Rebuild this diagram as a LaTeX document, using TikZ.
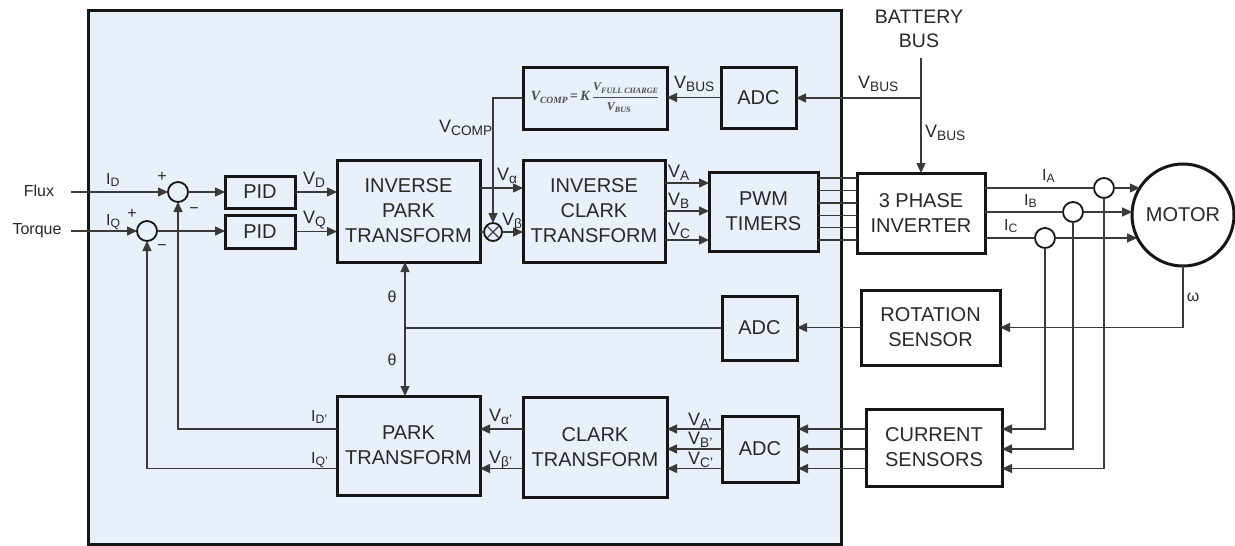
\documentclass[tikz,border=0pt]{standalone}
\usepackage{fontspec}
\setmainfont{Liberation Sans}
\newfontfamily\fmfont{Liberation Serif}
\usepackage{graphicx}
\usetikzlibrary{arrows.meta,calc}
\definecolor{panel}{RGB}{233,240,250}
\definecolor{lncol}{RGB}{58,58,58}
\definecolor{bxcol}{RGB}{22,22,22}
\definecolor{txcol}{RGB}{40,40,40}
\definecolor{fmcol}{RGB}{75,75,75}
\newcommand\Sb[1]{\raisebox{-0.17em}{\scalebox{0.76}{#1}}}
\newcommand\Fs[1]{\raisebox{-0.18em}{\scalebox{0.68}{#1}}}
\newcommand\Ft[1]{\mbox{\fmfont\bfseries\itshape #1}}
\newcommand\formula{$\displaystyle \Ft{V\Fs{COMP}\,=\,K}\,\frac{\scalebox{0.85}{\Ft{V\Fs{FULL CHARGE}}}}{\scalebox{0.85}{\Ft{V\Fs{BUS}}}}$}
\tikzset{
  blk/.style={draw=bxcol, line width=3pt, inner sep=0pt, outer sep=0pt, align=center, text=txcol, font=\fontsize{20}{25}\selectfont},
  wire/.style={draw=lncol, line width=1.4pt},
  awire/.style={wire, -{Triangle[length=10pt,width=9pt]}},
  lbl/.style={text=txcol, font=\fontsize{18}{18}\selectfont, inner sep=0pt},
  slbl/.style={text=txcol, font=\fontsize{16}{16}\selectfont, inner sep=0pt},
  sumc/.style={circle, draw=bxcol, line width=1.8pt, minimum size=20pt, inner sep=0pt, outer sep=0pt},
}
\begin{document}
\begin{tikzpicture}[x=1pt,y=-1pt]
\useasboundingbox (0,0) rectangle (1235,546);
\fill[white] (0,0) rectangle (1235,546);
\draw[line width=3pt, draw=bxcol, fill=panel] (88,10) rectangle (841,544);

% blocks
\node[blk, minimum width=70pt, minimum height=32pt] (pid1) at (260,192) {PID};
\node[blk, minimum width=70pt, minimum height=33pt] (pid2) at (260,231.5) {PID};
\node[blk, minimum width=143pt, minimum height=102pt] (ipark) at (408.5,211) {INVERSE\\PARK\\TRANSFORM};
\node[blk, minimum width=142pt, minimum height=102pt] (iclark) at (594,211) {INVERSE\\CLARK\\TRANSFORM};
\node[blk, minimum width=144pt, minimum height=62pt, text=fmcol, font=\fontsize{14}{16}\selectfont] (form) at (595,98) {\formula};
\node[blk, minimum width=75pt, minimum height=61pt] (adc1) at (758.5,97.5) {ADC};
\node[blk, minimum width=109pt, minimum height=79pt] (pwm) at (763.5,211.5) {PWM\\TIMERS};
\node[blk, fill=white, minimum width=128pt, minimum height=80pt] (inv) at (921,213) {3 PHASE\\INVERTER};
\node[blk, fill=white, circle, minimum size=102pt] (motor) at (1183,215) {MOTOR};
\node[blk, fill=white, minimum width=139pt, minimum height=75pt] (rot) at (930.5,327.5) {ROTATION\\SENSOR};
\node[blk, minimum width=75pt, minimum height=64pt] (adc2) at (759.5,328) {ADC};
\node[blk, minimum width=143pt, minimum height=99pt] (park) at (408.5,445.5) {PARK\\TRANSFORM};
\node[blk, minimum width=144pt, minimum height=100pt] (clark) at (595,447) {CLARK\\TRANSFORM};
\node[blk, minimum width=76pt, minimum height=66pt] (adc3) at (760,449) {ADC};
\node[blk, fill=white, minimum width=136pt, minimum height=77pt] (cur) at (934,447.5) {CURRENT\\SENSORS};

% circles
\node[sumc] (s1) at (178,192) {};
\node[sumc] (s2) at (147,231) {};
\node[sumc, minimum size=18pt] (mul) at (493,232) {};
\draw[wire] (mul.45) -- (mul.225) (mul.135) -- (mul.315);
\node[sumc] (cA) at (1104,188) {};
\node[sumc] (cB) at (1073,212) {};
\node[sumc] (cC) at (1045,238) {};

% inputs
\node[slbl] (flux) at (39,191) {Flux};
\node[slbl] (torq) at (37,231) {Torque};
\coordinate (fin) at (71,192);
\coordinate (tin) at (71,231);
\draw[awire] (fin) -- (s1.west);
\draw[awire] (s1.east) -- (s1.east -| pid1.west);
\draw[awire] (pid1.east) -- (pid1.east -| ipark.west);
\draw[awire] (tin) -- (s2.west);
\draw[awire] (s2.east) -- (s2.east -| pid2.west);
\draw[awire] (pid2.east) -- (pid2.east -| ipark.west);

% inverse park -> inverse clark
\coordinate (ya) at (0,188);
\draw[awire] (ipark.east |- ya) -- (iclark.west |- ya);
\draw[wire] (ipark.east |- mul) -- (mul.west);
\draw[awire] (mul.east) -- (mul.east -| iclark.west);
\draw[awire] (form.west) -| (mul.north);

% inverse clark -> pwm
\foreach \y/\n in {183/a,211/b,240/c}{
  \coordinate (v\n) at (0,\y);
  \draw[awire] (iclark.east |- v\n) -- (pwm.west |- v\n);
}
% pwm -> inverter
\foreach \y/\n in {178/1,190.4/2,202.8/3,215.2/4,227.6/5,240/6}{
  \coordinate (g\n) at (0,\y);
  \draw[wire] (pwm.east |- g\n) -- (inv.west |- g\n);
}

% battery bus
\node[lbl, font=\fontsize{19.5}{24}\selectfont, align=center] (bat) at (919,29) {BATTERY\\BUS};
\coordinate (bt) at (921,58);
\coordinate (bj) at (921,98);
\draw[awire] (bt) -- (bt |- inv.north);
\draw[awire] (bj) -- (bj -| adc1.east);
\draw[awire] (adc1.west) -- (adc1.west -| form.east);

% inverter -> motor
\draw[wire] (cA.west -| inv.east) -- (cA.west);
\draw[awire] (cA.east) -- (motor.148 |- cA.east);
\draw[wire] (cB.west -| inv.east) -- (cB.west);
\draw[awire] (cB.east) -- (motor.176.6 |- cB.east);
\draw[wire] (cC.west -| inv.east) -- (cC.west);
\draw[awire] (cC.east) -- (motor.206.8 |- cC.east);

% rotation
\draw[awire] (motor.south) |- (rot.east);
\draw[awire] (rot.west) -- (rot.west -| adc2.east);
\coordinate (th) at (405,328);
\draw[wire] (adc2.west) -- (adc2.west -| th);
\draw[awire] (th) -- (th |- ipark.south);
\draw[awire] (th) -- (th |- park.north);

% current sensing
\coordinate (r1) at (0,429);
\coordinate (r2) at (0,449);
\coordinate (r3) at (0,468.5);
\draw[awire] (cC.south) |- (cur.east |- r1);
\draw[awire] (cB.south) |- (cur.east |- r2);
\draw[awire] (cA.south) |- (cur.east |- r3);
\foreach \r in {r1,r2,r3}{
  \draw[awire] (cur.west |- \r) -- (adc3.east |- \r);
  \draw[awire] (adc3.west |- \r) -- (clark.east |- \r);
}
\draw[awire] (clark.west |- r1) -- (park.east |- r1);
\draw[awire] (clark.west |- r3) -- (park.east |- r3);
\draw[awire] (park.west |- r1) -| (s1.south);
\draw[awire] (park.west |- r3) -| (s2.south);

% labels
\node[slbl, anchor=base west] (lid) at (106,184) {I\Sb{D}};
\node[slbl, anchor=base west] (liq) at (106,225) {I\Sb{Q}};
\node[lbl, anchor=base west] (lvd) at (303,184) {V\Sb{D}};
\node[lbl, anchor=base west] (lvq) at (303,223) {V\Sb{Q}};
\node[slbl] (p1) at (162,177) {+};
\node[slbl] (m1) at (194,211) {−};
\node[slbl] (p2) at (132,214) {+};
\node[slbl] (m2) at (162,248) {−};
\node[lbl, anchor=base west] (lvc) at (439,132) {V\Sb{COMP}};
\node[lbl, anchor=base west] (lva) at (497,180) {V\Sb{α}};
\node[lbl, anchor=base west] (lvb) at (502,225) {V\Sb{β}};
\node[lbl, anchor=base west] (lVA) at (668,177) {V\Sb{A}};
\node[lbl, anchor=base west] (lVB) at (668,205) {V\Sb{B}};
\node[lbl, anchor=base west] (lVC) at (668,235) {V\Sb{C}};
\node[lbl, anchor=base west] (lbus1) at (674,88) {V\Sb{BUS}};
\node[lbl, anchor=base west] (lbus2) at (858,88) {V\Sb{BUS}};
\node[lbl, anchor=base west] (lbus3) at (925,137) {V\Sb{BUS}};
\node[slbl, anchor=base west] (lia) at (1042,180) {I\Sb{A}};
\node[slbl, anchor=base west] (lib) at (1024,205) {I\Sb{B}};
\node[slbl, anchor=base west] (lic) at (1004,230) {I\Sb{C}};
\node[slbl] (lw) at (1193,297) {ω};
\node[slbl] (lt1) at (392,297) {θ};
\node[slbl] (lt2) at (392,360) {θ};
\node[slbl, anchor=base west] (lidp) at (311,421) {I\Sb{D'}};
\node[slbl, anchor=base west] (liqp) at (311,463) {I\Sb{Q'}};
\node[lbl, anchor=base west] (lvap) at (489,421) {V\Sb{α'}};
\node[lbl, anchor=base west] (lvbp) at (489,463) {V\Sb{β'}};
\node[lbl, anchor=base west] (lVAp) at (688,425) {V\Sb{A'}};
\node[lbl, anchor=base west] (lVBp) at (688,444) {V\Sb{B'}};
\node[lbl, anchor=base west] (lVCp) at (688,464) {V\Sb{C'}};
\end{tikzpicture}
\end{document}
